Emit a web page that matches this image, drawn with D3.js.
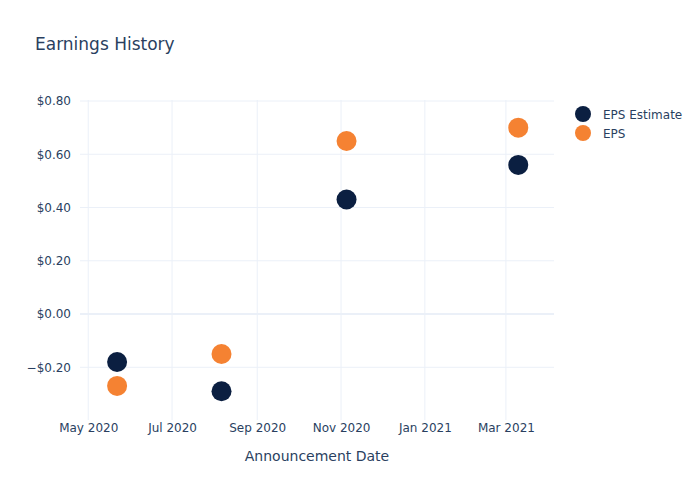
<!DOCTYPE html>
<meta charset="utf-8">
<html>
<head>
<style>
body { margin: 0; background: #fff; }
text { font-family: "DejaVu Sans", Verdana, sans-serif; fill: #2a3f5f; }
</style>
</head>
<body>
<div id="chart"></div>
<script src="https://d3js.org/d3.v7.min.js"></script>
<script>

// data
var dates = ["2020-05-22", "2020-08-06", "2020-11-05", "2021-03-10"];
var epsEstimate = [-0.18, -0.29, 0.43, 0.56];
var eps = [-0.27, -0.15, 0.65, 0.70];
var seriesNames = ["EPS Estimate", "EPS"];
var seriesColors = ["#0b1f41", "#f58232"];
var yTicks = [-0.2, 0, 0.2, 0.4, 0.6, 0.8];
var xTicks = ["2020-05-01", "2020-07-01", "2020-09-01", "2020-11-01", "2021-01-01", "2021-03-01"];

var parse = d3.timeParse("%Y-%m-%d");

var margin = {top: 100, right: 146, bottom: 80, left: 80},
    width = 700 - margin.left - margin.right,
    height = 500 - margin.top - margin.bottom;

var svg = d3.select("#chart")
  .append("svg")
    .attr("width", 700)
    .attr("height", 500);

var g = svg.append("g")
    .attr("transform", "translate(" + margin.left + "," + margin.top + ")");

var x = d3.scaleTime()
  .domain([parse("2020-04-25"), parse("2021-04-05")])
  .range([0, width]);

var y = d3.scaleLinear()
  .domain([-0.398, 0.8038])
  .range([height, 0]);

// grid lines
g.selectAll(".xgrid")
  .data(xTicks)
  .enter()
  .append("line")
    .attr("x1", function(d) { return x(parse(d)) })
    .attr("x2", function(d) { return x(parse(d)) })
    .attr("y1", 0)
    .attr("y2", height)
    .attr("stroke", "#ebf0f8")
    .attr("stroke-width", 1);

g.selectAll(".ygrid")
  .data(yTicks)
  .enter()
  .append("line")
    .attr("x1", 0)
    .attr("x2", width)
    .attr("y1", function(d) { return y(d) })
    .attr("y2", function(d) { return y(d) })
    .attr("stroke", "#ebf0f8")
    .attr("stroke-width", function(d) { return d === 0 ? 2 : 1 });

// axes (text only, like plotly)
var yAxis = g.append("g")
  .call(d3.axisLeft(y).tickValues(yTicks).tickSize(0).tickPadding(9)
    .tickFormat(function(d) {
      var s = "$" + Math.abs(d).toFixed(2);
      return d < 0 ? "\u2212" + s : s;
    }));
yAxis.select(".domain").remove();
yAxis.selectAll("text").style("font-size", "12px").attr("fill", "#2a3f5f");

var xAxis = g.append("g")
  .attr("transform", "translate(0," + height + ")")
  .call(d3.axisBottom(x).tickValues(xTicks.map(parse)).tickSize(0).tickPadding(3)
    .tickFormat(d3.timeFormat("%b %Y")));
xAxis.select(".domain").remove();
xAxis.selectAll("text").style("font-size", "12px").attr("fill", "#2a3f5f");

// markers
var series = [epsEstimate, eps];
series.forEach(function(vals, i) {
  g.selectAll(".dot" + i)
    .data(vals)
    .enter()
    .append("circle")
      .attr("cx", function(d, j) { return x(parse(dates[j])) })
      .attr("cy", function(d) { return y(d) })
      .attr("r", 10)
      .style("fill", seriesColors[i]);
});

// title
svg.append("text")
  .attr("x", 35)
  .attr("y", 50)
  .style("font-size", "17px")
  .text("Earnings History");

// x axis title
svg.append("text")
  .attr("x", margin.left + width / 2)
  .attr("y", 461)
  .style("text-anchor", "middle")
  .style("font-size", "14px")
  .text("Announcement Date");

// legend
var legend = svg.selectAll(".legend")
  .data(seriesNames)
  .enter()
  .append("g")
    .attr("transform", function(d, i) { return "translate(583," + (114 + i * 19) + ")" });

legend.append("circle")
  .attr("r", 8)
  .style("fill", function(d, i) { return seriesColors[i] });

legend.append("text")
  .attr("x", 20)
  .attr("y", 4.5)
  .style("font-size", "12px")
  .text(function(d) { return d });

</script>
</body>
</html>
